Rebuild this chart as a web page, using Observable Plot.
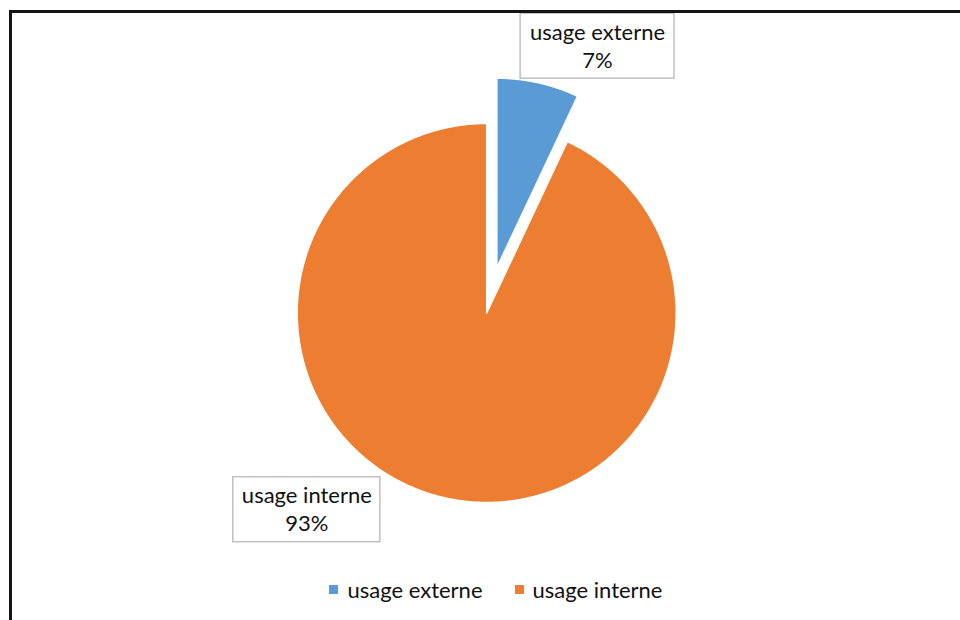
<!DOCTYPE html>
<html>
<head>
<meta charset="utf-8">
<script src="https://cdn.jsdelivr.net/npm/d3@7"></script>
<script src="https://cdn.jsdelivr.net/npm/@observablehq/plot@0.6"></script>
<style>
  html, body { margin: 0; padding: 0; background: #fff; }
  #wrap { position: relative; width: 960px; height: 620px; overflow: hidden; font-family: Lato, "Noto Sans", sans-serif; }
  #chart { position: absolute; left: 0; top: 0; }
  #frame { position: absolute; left: 9px; top: 10px; width: 2000px; height: 2000px;
           border-left: 3px solid #141414; border-top: 3px solid #141414; pointer-events: none; }
  #legend { position: absolute; top: 576px; left: 16px; width: 960px; display: flex; justify-content: center;
            align-items: center; font-size: 22px; color: #111; }
  .item { display: flex; align-items: center; margin: 0 16px; }
  .sw { width: 9px; height: 9px; margin-right: 9px; }
</style>
</head>
<body>
<div id="wrap">
  <div id="chart"></div>
  <div id="legend"></div>
  <div id="frame"></div>
</div>
<script>
// ---- data ----
const categories = ["usage externe", "usage interne"];
const values = [7, 93];
const colors = ["#5B9BD5", "#ED7D31"];
const exploded = [true, false];

// ---- layout constants (not data) ----
const explodeDist = 0.245;          // in pie-radius units
const labelCenters = [[0.585, 1.408], [-0.949, -1.038]];
const labelHalfW = [0.406, 0.388];
const labelHalfH = 0.1715;

const total = d3.sum(values);
const arcs = d3.pie().sort(null).value(d => d)(values);

function slicePoints(a, i) {
  const mid = (a.startAngle + a.endAngle) / 2;
  const ox = exploded[i] ? explodeDist * Math.sin(mid) : 0;
  const oy = exploded[i] ? explodeDist * Math.cos(mid) : 0;
  const pts = [{x: ox, y: oy}];
  const n = Math.max(8, Math.ceil((a.endAngle - a.startAngle) / (Math.PI / 360)));
  for (let k = 0; k <= n; k++) {
    const t = a.startAngle + (a.endAngle - a.startAngle) * k / n;
    pts.push({x: ox + Math.sin(t), y: oy + Math.cos(t)});
  }
  pts.push({x: ox, y: oy});
  return pts;
}

const labels = categories.map((c, i) => ({
  text: c + "\n" + Math.round(values[i] / total * 100) + "%",
  x: labelCenters[i][0], y: labelCenters[i][1],
  x1: labelCenters[i][0] - labelHalfW[i], x2: labelCenters[i][0] + labelHalfW[i],
  y1: labelCenters[i][1] - labelHalfH, y2: labelCenters[i][1] + labelHalfH
}));

const sliceMarks = arcs.map((a, i) =>
  Plot.line(slicePoints(a, i), {x: "x", y: "y", fill: colors[i], stroke: "#fff", strokeWidth: 1.5, strokeLinejoin: "round"})
);

const plot = Plot.plot({
  width: 960, height: 620,
  marginLeft: 296.7, marginRight: 284.3, marginTop: 123, marginBottom: 118,
  x: {domain: [-1, 1], axis: null},
  y: {domain: [-1, 1], axis: null},
  style: {fontFamily: "Lato, 'Noto Sans', sans-serif", background: "transparent"},
  marks: [
    ...sliceMarks,
    Plot.rect(labels, {x1: "x1", x2: "x2", y1: "y1", y2: "y2", fill: "#fff", stroke: "#BFBFBF", strokeWidth: 1.5}),
    Plot.text(labels, {x: "x", y: "y", text: "text", fontSize: 22, lineHeight: 1.27, dy: -1.5, fill: "#111"})
  ]
});
document.getElementById("chart").appendChild(plot);

const leg = document.getElementById("legend");
categories.forEach((c, i) => {
  const it = document.createElement("div");
  it.className = "item";
  const sw = document.createElement("div");
  sw.className = "sw";
  sw.style.background = colors[i];
  const tx = document.createElement("span");
  tx.textContent = c;
  it.appendChild(sw); it.appendChild(tx);
  leg.appendChild(it);
});
</script>
</body>
</html>
